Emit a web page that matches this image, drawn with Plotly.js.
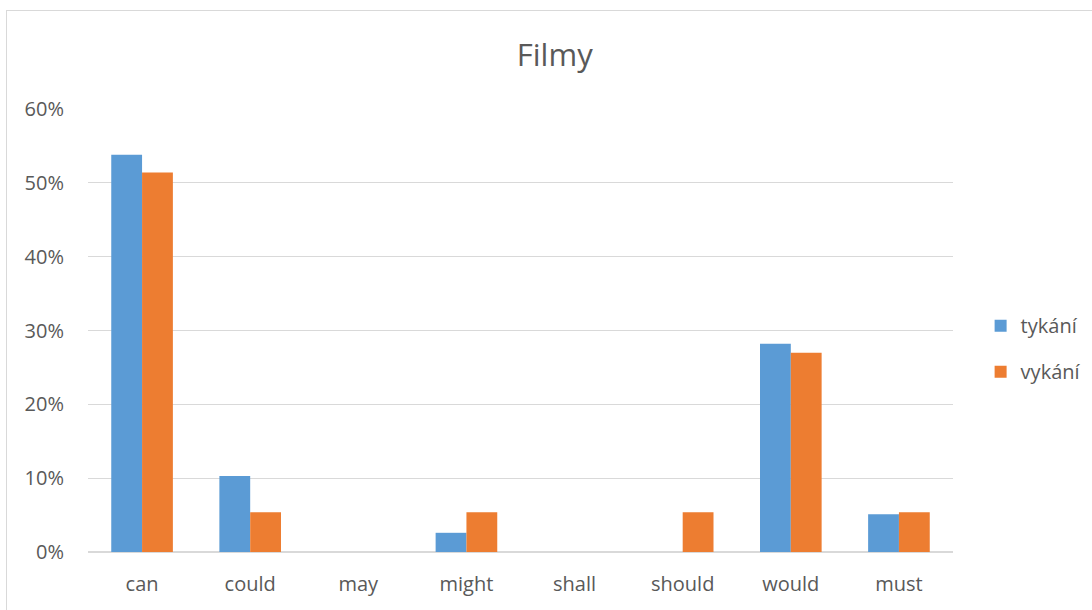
<!DOCTYPE html>
<html><head><meta charset="utf-8">
<script src="https://cdn.plot.ly/plotly-3.0.1.min.js"></script>
<style>
body{margin:0;padding:0;background:#fff;}
#chart{width:1092px;height:610px;position:absolute;left:0;top:0;}
#frame{position:absolute;left:6px;top:10px;width:1100px;height:620px;border:1px solid #d9d9d9;pointer-events:none;}
</style></head>
<body>
<div id="chart"></div>
<div id="frame"></div>
<script>
const categories = ['can','could','may','might','shall','should','would','must'];
const tykani = [0.538, 0.103, 0, 0.026, 0, 0, 0.282, 0.051];
const vykani = [0.514, 0.054, 0, 0.054, 0, 0.054, 0.270, 0.054];
const seriesNames = ['tykání','vykání'];
const yTicks = [0, 0.1, 0.2, 0.3, 0.4, 0.5, 0.6];
const yTickText = ['0%','10%','20%','30%','40%','50%','60%'];

const font = '"Open Sans", "Liberation Sans", sans-serif';
const data = [
  {type:'bar', x:categories, y:tykani, name:seriesNames[0], legendgroup:'a',
   marker:{color:'#5b9bd5', line:{width:0}}, hoverinfo:'x+y'},
  {type:'bar', x:categories, y:vykani, name:seriesNames[1], legendgroup:'b',
   marker:{color:'#ed7d31', line:{width:0}}, hoverinfo:'x+y'}
];
const layout = {
  width:1092, height:610,
  margin:{l:88, r:139, t:109, b:58},
  paper_bgcolor:'rgba(0,0,0,0)', plot_bgcolor:'#fff',
  title:{text:'Filmy', x:0.508, xanchor:'center', y:0.91, yanchor:'middle',
         font:{family:font, size:31, color:'#595959'}},
  bargap:0.43, bargroupgap:0,
  xaxis:{type:'category', showgrid:false, zeroline:false, showline:false,
         ticks:'outside', ticklen:14, tickcolor:'rgba(0,0,0,0)',
         tickfont:{family:font, size:20, color:'#595959'}, fixedrange:true},
  yaxis:{range:[0,0.6], tickvals:yTicks, ticktext:yTickText, showgrid:true,
         gridcolor:'#d9d9d9', gridwidth:1.3, zeroline:true, zerolinecolor:'#d9d9d9', zerolinewidth:1.3,
         showline:false, ticks:'outside', ticklen:19, tickcolor:'rgba(0,0,0,0)',
         tickfont:{family:font, size:20, color:'#595959'}, fixedrange:true},
  showlegend:true,
  legend:{xref:'container', x:0.898, xanchor:'left', y:0.459, yanchor:'middle', traceorder:'grouped',
          tracegroupgap:17, font:{family:font, size:20, color:'#595959'},
          itemwidth:30, bgcolor:'rgba(0,0,0,0)'}
};
Plotly.newPlot('chart', data, layout, {displayModeBar:false, staticPlot:true});
</script>
</body></html>
